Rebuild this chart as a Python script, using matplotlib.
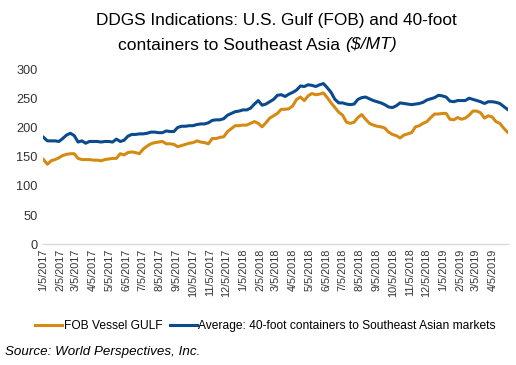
import numpy as np
import pandas as pd
import matplotlib
matplotlib.use('Agg')
import matplotlib.pyplot as plt
import matplotlib.dates as mdates

plt.rcParams['font.family'] = ['Liberation Sans', 'DejaVu Sans']

# Weekly series, first week 1/5/2017
dates = pd.date_range('2017-01-05', periods=122, freq='7D')

fob_gulf = [
    145, 137, 143, 145, 148, 152, 154, 155, 155, 147,
    145, 145, 145, 144, 144, 143, 145, 146, 147, 147,
    155, 153, 157, 158, 157, 155, 163, 168, 172, 174,
    175, 176, 172, 172, 171, 167, 169, 171, 173, 174,
    177, 175, 174, 172, 181, 181, 183, 184, 193, 198,
    203, 203, 204, 204, 207, 210, 207, 201, 208, 216,
    220, 224, 231, 231, 232, 237, 248, 252, 246, 254,
    258, 256, 257, 259, 251, 242, 234, 226, 221, 209,
    207, 209, 217, 222, 214, 207, 204, 202, 201, 199,
    192, 188, 186, 182, 187, 189, 191, 201, 203, 207,
    210, 217, 223, 223, 224, 224, 214, 213, 217, 214,
    216, 221, 228, 228, 225, 216, 220, 218, 210, 207,
    199, 192,
]

container_sea = [
    183, 177, 177, 177, 176, 181, 187, 190, 186, 175,
    177, 173, 176, 176, 176, 175, 176, 176, 175, 180,
    176, 178, 185, 188, 188, 189, 189, 190, 192, 192,
    191, 191, 194, 193, 193, 200, 202, 202, 203, 203,
    205, 206, 206, 208, 212, 213, 213, 215, 221, 224,
    227, 228, 230, 230, 233, 240, 246, 238, 240, 244,
    248, 255, 256, 253, 257, 260, 264, 271, 270, 273,
    272, 270, 273, 275, 268, 260, 248, 242, 242, 240,
    239, 240, 248, 251, 252, 249, 246, 244, 242, 239,
    235, 234, 237, 242, 241, 240, 239, 240, 241, 243,
    247, 249, 251, 255, 254, 252, 245, 244, 246, 246,
    246, 250, 248, 246, 244, 241, 244, 244, 243, 241,
    236, 231,
]

# ticks on the 5th of each month
tick_dates = pd.date_range('2017-01-01', '2019-04-01', freq='MS') + pd.Timedelta(days=4)

orange = '#D58B13'
blue = '#0B4A8C'

fig = plt.figure(figsize=(5.16, 3.65), dpi=100)
ax = fig.add_axes([43/516, 120.7/365, 465/516, 175.3/365])

ax.plot(dates, fob_gulf, color=orange, lw=2.2, label='FOB Vessel GULF')
ax.plot(dates, container_sea, color=blue, lw=2.2,
        label='Average: 40-foot containers to Southeast Asian markets')

ax.set_ylim(0, 300)
ax.set_yticks(range(0, 301, 50))
ax.set_xlim(dates[0] - pd.Timedelta(days=1), dates[-1] + pd.Timedelta(days=1))
ax.set_xticks(tick_dates)
ax.xaxis.set_major_formatter(plt.FuncFormatter(
    lambda v, p: '{d.month}/{d.day}/{d.year}'.format(d=mdates.num2date(v))))

for s in ['top', 'right', 'left']:
    ax.spines[s].set_visible(False)
ax.spines['bottom'].set_color('#D9D9D9')
ax.spines['bottom'].set_linewidth(1)
ax.tick_params(axis='y', length=0, labelsize=9.2, pad=4, colors='#333333')
ax.tick_params(axis='x', length=0, labelsize=7.8, rotation=90, pad=3, colors='#333333')

# titre sur deux lignes, la fin en italique
fig.text(276/516, 1 - 20/365, 'DDGS Indications: U.S. Gulf (FOB) and 40-foot',
         ha='center', va='center', fontsize=12.4)
t1 = fig.text(0, 1 - 45/365, 'containers to Southeast Asia ',
              ha='left', va='center', fontsize=12.6)
t2 = fig.text(0, 1 - 45/365, '($/MT)', ha='left', va='center',
              fontsize=12.6, style='italic')
r = fig.canvas.get_renderer()
w1 = t1.get_window_extent(r).width
w2 = t2.get_window_extent(r).width
x0 = 257.5 - (w1 + w2) / 2
t1.set_x(x0 / 516)
t2.set_x((x0 + w1) / 516)

fig.legend(loc='center left', bbox_to_anchor=(35/516, 1 - 326/365), ncol=2,
           frameon=False, fontsize=8.65, handlelength=2.25, handletextpad=0.15,
           columnspacing=0.6, borderpad=0, borderaxespad=0)

fig.text(5/516, 1 - 352/365, 'Source: World Perspectives, Inc.',
         ha='left', va='center', fontsize=9.6, style='italic')

fig.savefig('out.png', dpi=100)
